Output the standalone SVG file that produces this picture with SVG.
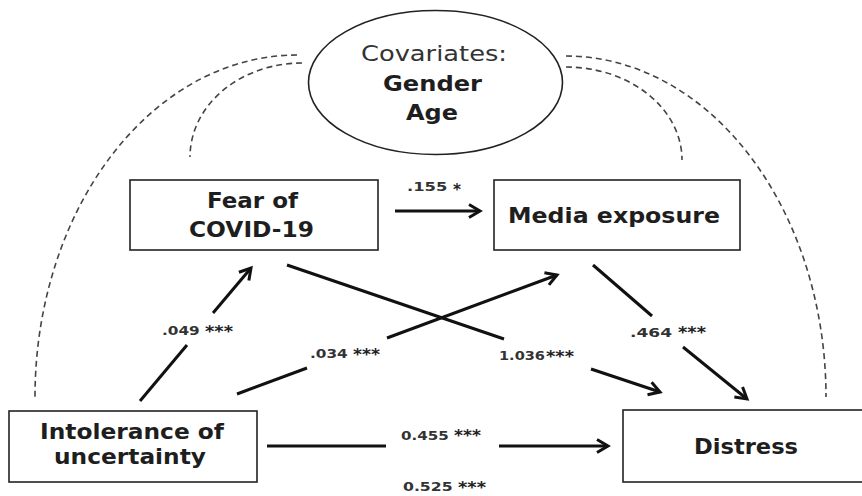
<svg xmlns="http://www.w3.org/2000/svg" width="862" height="496" viewBox="0 0 862 496">
<defs>
<style>
.box{fill:#fff;stroke:#222;stroke-width:1.6}
.node{font-family:"DejaVu Sans",sans-serif;font-weight:bold;font-size:22px;fill:#1e1e1e}
.cov{font-family:"DejaVu Sans",sans-serif;font-size:22px;fill:#333}
.lbl{font-family:"DejaVu Sans",sans-serif;font-weight:bold;font-size:12px;fill:#333}
.ast{font-size:15px;fill:#222}
.arr{stroke:#111;stroke-width:3;fill:none}
.dash{stroke:#444;stroke-width:1.6;fill:none;stroke-dasharray:6 4}
</style>
<marker id="ah" markerUnits="userSpaceOnUse" markerWidth="30" markerHeight="30" refX="0" refY="0" orient="auto" overflow="visible">
<path d="M-11,-6.5 L0,0 L-11,6.5" fill="none" stroke="#111" stroke-width="3" stroke-linejoin="miter"/>
</marker>
</defs>
<rect width="862" height="496" fill="#fff"/>

<g id="connectors">
<path class="dash" d="M297,55 A262,342 0 0 0 35,397"/>
<path class="dash" d="M302,63 A112,94 0 0 0 190,157"/>
<path class="dash" d="M566,67 A116,93 0 0 1 682,160"/>
<path class="dash" d="M566,56 A260,341 0 0 1 826,397"/>

<line class="arr" x1="395" y1="211" x2="480" y2="211" marker-end="url(#ah)"/>

<line class="arr" x1="140" y1="401" x2="187" y2="345"/>
<line class="arr" x1="213" y1="313" x2="251" y2="268" marker-end="url(#ah)"/>

<line class="arr" x1="237" y1="394" x2="307" y2="368"/>
<line class="arr" x1="387" y1="338" x2="557" y2="275" marker-end="url(#ah)"/>

<line class="arr" x1="287" y1="265" x2="504" y2="339"/>
<line class="arr" x1="591" y1="369" x2="660" y2="392" marker-end="url(#ah)"/>

<line class="arr" x1="593" y1="265" x2="652" y2="316"/>
<line class="arr" x1="683" y1="347" x2="747" y2="399" marker-end="url(#ah)"/>

<line class="arr" x1="267" y1="446" x2="386" y2="446"/>
<line class="arr" x1="499" y1="446" x2="608" y2="446" marker-end="url(#ah)"/>

<text class="lbl"><tspan x="407" y="191" textLength="46" lengthAdjust="spacingAndGlyphs">.155 </tspan><tspan class="ast" x="453" y="195" textLength="8" lengthAdjust="spacingAndGlyphs">*</tspan></text>
<text class="lbl"><tspan x="162" y="335" textLength="43" lengthAdjust="spacingAndGlyphs">.049 </tspan><tspan class="ast" x="205" y="337" textLength="28" lengthAdjust="spacingAndGlyphs">***</tspan></text>
<text class="lbl"><tspan x="310" y="358" textLength="43" lengthAdjust="spacingAndGlyphs">.034 </tspan><tspan class="ast" x="353" y="360" textLength="27" lengthAdjust="spacingAndGlyphs">***</tspan></text>
<text class="lbl"><tspan x="499" y="360" textLength="46" lengthAdjust="spacingAndGlyphs">1.036</tspan><tspan class="ast" x="546" y="362" textLength="28" lengthAdjust="spacingAndGlyphs">***</tspan></text>
<text class="lbl"><tspan x="630" y="337" textLength="48" lengthAdjust="spacingAndGlyphs">.464 </tspan><tspan class="ast" x="678" y="338" textLength="28" lengthAdjust="spacingAndGlyphs">***</tspan></text>
<text class="lbl"><tspan x="401" y="440" textLength="53" lengthAdjust="spacingAndGlyphs">0.455 </tspan><tspan class="ast" x="454" y="441" textLength="27" lengthAdjust="spacingAndGlyphs">***</tspan></text>
<text class="lbl"><tspan x="403" y="491" textLength="55" lengthAdjust="spacingAndGlyphs">0.525 </tspan><tspan class="ast" x="458" y="493" textLength="28" lengthAdjust="spacingAndGlyphs">***</tspan></text>
</g>

<g id="covariates">
<ellipse cx="435.5" cy="82.5" rx="127" ry="72" fill="#fff" stroke="#222" stroke-width="1.6"/>
<text class="cov" x="361" y="61" textLength="146" lengthAdjust="spacingAndGlyphs">Covariates:</text>
<text class="node" x="383" y="91" textLength="99" lengthAdjust="spacingAndGlyphs">Gender</text>
<text class="node" x="406" y="120" textLength="52" lengthAdjust="spacingAndGlyphs">Age</text>
</g>

<g id="fear">
<rect class="box" x="130" y="180" width="248" height="70"/>
<text class="node" x="207" y="208" textLength="91" lengthAdjust="spacingAndGlyphs">Fear of</text>
<text class="node" x="189" y="237" textLength="125" lengthAdjust="spacingAndGlyphs">COVID-19</text>
</g>

<g id="media">
<rect class="box" x="494" y="180" width="246" height="70"/>
<text class="node" x="508" y="223" textLength="212" lengthAdjust="spacingAndGlyphs">Media exposure</text>
</g>

<g id="intolerance">
<rect class="box" x="9" y="411" width="248" height="71"/>
<text class="node" x="40" y="439" textLength="184" lengthAdjust="spacingAndGlyphs">Intolerance of</text>
<text class="node" x="54" y="464" textLength="152" lengthAdjust="spacingAndGlyphs">uncertainty</text>
</g>

<g id="distress">
<rect class="box" x="623" y="410" width="250" height="72"/>
<text class="node" x="694" y="454" textLength="104" lengthAdjust="spacingAndGlyphs">Distress</text>
</g>
</svg>
